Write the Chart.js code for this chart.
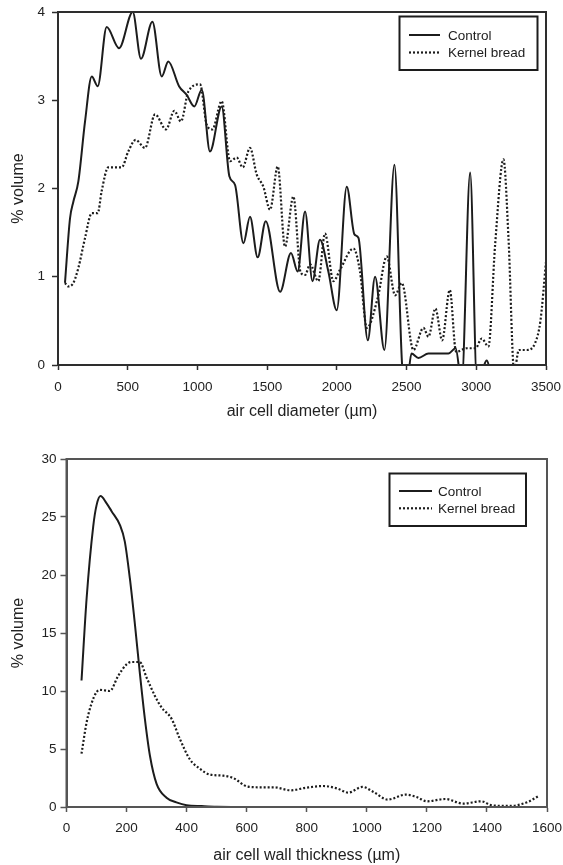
<!DOCTYPE html>
<html>
<head>
<meta charset="utf-8">
<script src="https://cdn.jsdelivr.net/npm/chart.js@4/dist/chart.umd.min.js"></script>
<style>
  body { margin: 0; background: #fff; }
  #wrap { position: relative; width: 563px; height: 865px; }
  canvas { position: absolute; left: 0; }
</style>
</head>
<body>
<div id="wrap">
  <canvas id="diameterChart" width="563" height="430" style="top:0"></canvas>
  <canvas id="thicknessChart" width="563" height="435" style="top:430px"></canvas>
</div>
<script>
// --- top panel: air cell diameter (µm) vs % volume
const diamControlX = [50, 86, 110, 146, 194, 242, 285, 349, 438, 536, 595, 677, 744, 791, 868, 923, 978, 1031, 1090, 1174, 1229, 1270, 1330, 1377, 1432, 1490, 1593, 1671, 1719, 1772, 1825, 1879, 1939, 1999, 2071, 2126, 2155, 2222, 2274, 2341, 2413, 2468, 2500, 2535, 2585, 2657, 2800, 2852, 2895, 2956, 3005, 3045, 3075, 3105, 3200, 3500];
const diamControlY = [0.93, 1.66, 1.85, 2.08, 2.76, 3.27, 3.16, 3.83, 3.59, 4.0, 3.47, 3.89, 3.27, 3.44, 3.16, 3.06, 2.93, 3.12, 2.42, 2.93, 2.14, 2.04, 1.38, 1.68, 1.22, 1.63, 0.83, 1.27, 1.06, 1.74, 0.95, 1.42, 1.06, 0.62, 2.02, 1.48, 1.44, 0.28, 1.0, 0.17, 2.27, 0.0, -0.25, 0.13, 0.08, 0.13, 0.13, 0.19, -0.2, 2.18, -0.2, -0.05, 0.05, -0.1, -0.5, -0.5];

const diamKernelX = [50, 74, 110, 146, 194, 242, 285, 313, 361, 457, 504, 557, 624, 696, 775, 834, 882, 935, 1019, 1067, 1107, 1174, 1234, 1282, 1325, 1377, 1425, 1473, 1521, 1576, 1628, 1688, 1740, 1772, 1808, 1867, 1915, 1975, 2023, 2119, 2166, 2215, 2293, 2358, 2418, 2466, 2549, 2621, 2657, 2707, 2755, 2810, 2855, 2932, 2995, 3039, 3087, 3135, 3195, 3231, 3272, 3305, 3362, 3422, 3460, 3500];
const diamKernelY = [0.93, 0.89, 0.93, 1.10, 1.44, 1.72, 1.72, 1.97, 2.24, 2.24, 2.42, 2.55, 2.46, 2.84, 2.67, 2.88, 2.76, 3.10, 3.18, 2.72, 2.67, 2.99, 2.31, 2.35, 2.24, 2.46, 2.16, 2.02, 1.76, 2.25, 1.34, 1.91, 1.05, 1.02, 1.14, 0.95, 1.49, 0.95, 1.08, 1.32, 1.06, 0.42, 0.76, 1.23, 0.79, 0.93, 0.17, 0.42, 0.32, 0.64, 0.28, 0.85, 0.15, 0.19, 0.19, 0.30, 0.21, 1.36, 2.33, 1.44, -0.08, 0.17, 0.17, 0.25, 0.5, 1.17];

const diamTicks = [0, 500, 1000, 1500, 2000, 2500, 3000, 3500];

// --- bottom panel: air cell wall thickness (µm) vs % volume
const wallControlX = [50, 67, 89, 100, 113, 133, 150, 178, 194, 211, 228, 244, 261, 278, 300, 333, 366, 400, 450, 500, 600, 800];
const wallControlY = [10.9, 18.0, 24.2, 26.0, 26.8, 26.2, 25.5, 24.3, 22.9, 19.7, 15.7, 11.6, 7.6, 4.4, 2.0, 0.8, 0.4, 0.15, 0.08, 0.03, 0.0, 0.0];

const wallKernelX = [50, 67, 83, 100, 111, 144, 172, 200, 216, 244, 266, 294, 316, 350, 377, 411, 444, 477, 522, 555, 604, 640, 690, 747, 795, 855, 902, 938, 986, 1022, 1070, 1130, 1165, 1201, 1261, 1321, 1381, 1417, 1476, 1536, 1570];
const wallKernelY = [4.6, 7.3, 8.9, 9.9, 10.1, 10.0, 11.3, 12.3, 12.5, 12.5, 11.2, 9.6, 8.6, 7.6, 5.9, 4.1, 3.3, 2.8, 2.7, 2.5, 1.75, 1.7, 1.7, 1.44, 1.65, 1.81, 1.59, 1.24, 1.73, 1.30, 0.64, 1.07, 0.87, 0.49, 0.69, 0.29, 0.49, 0.14, 0.09, 0.43, 0.92];

const wallTicks = [0, 200, 400, 600, 800, 1000, 1200, 1400, 1600];

const seriesNames = ['Control', 'Kernel bread'];

const FONT = "'Liberation Sans', Arial, sans-serif";
Chart.defaults.font.family = FONT;
Chart.defaults.color = '#222';

function toPoints(xs, ys) {
    return xs.map((x, i) => ({ x: x, y: ys[i] }));
}

function lineSet(label, xs, ys, dotted) {
    return {
        label: label,
        data: toPoints(xs, ys),
        borderColor: '#1c1c1c',
        borderWidth: dotted ? 2.2 : 2,
        borderDash: dotted ? [2, 2] : [],
        pointRadius: 0,
        fill: false,
        cubicInterpolationMode: 'monotone'
    };
}

// frame round the plot + boxed legend in the upper right
const framePlugin = {
    id: 'frame',
    afterDraw(chart, args, opts) {
        const { ctx, chartArea: a } = chart;
        ctx.save();
        ctx.strokeStyle = opts.color;
        ctx.lineWidth = 2;
        ctx.strokeRect(a.left, a.top, a.right - a.left, a.bottom - a.top);

        const b = opts.legend;
        ctx.strokeStyle = '#1c1c1c';
        ctx.strokeRect(b.x, b.y, b.w, b.h);
        chart.data.datasets.forEach((ds, i) => {
            const y = b.rowY[i];
            ctx.beginPath();
            ctx.lineWidth = ds.borderWidth;
            ctx.setLineDash(ds.borderDash);
            ctx.moveTo(b.lineX0, y);
            ctx.lineTo(b.lineX1, y);
            ctx.stroke();
            ctx.setLineDash([]);
            ctx.fillStyle = '#1c1c1c';
            ctx.font = '13.5px ' + FONT;
            ctx.textBaseline = 'middle';
            ctx.fillText(ds.label, b.textX, y + 1);
        });
        ctx.restore();
    }
};

function makeChart(id, cfg) {
    return new Chart(document.getElementById(id), {
        type: 'line',
        data: { datasets: cfg.datasets },
        options: {
            responsive: false,
            animation: false,
            layout: { padding: cfg.padding },
            plugins: {
                legend: { display: false },
                tooltip: { enabled: false },
                frame: { color: cfg.frameColor, legend: cfg.legendBox }
            },
            scales: {
                x: {
                    type: 'linear',
                    min: cfg.xMin, max: cfg.xMax,
                    afterFit: s => { s.height = cfg.xHeight; s.paddingLeft = 0; s.paddingRight = 0; },
                    afterBuildTicks: s => { s.ticks = cfg.xTicks.map(v => ({ value: v })); },
                    grid: { drawOnChartArea: false, tickLength: 5, tickWidth: 1.5, tickColor: cfg.frameColor },
                    border: { color: cfg.frameColor, width: 2 },
                    ticks: { font: { size: 13.5 }, padding: cfg.xTickPad, maxRotation: 0, callback: v => String(v) },
                    title: { display: true, text: cfg.xTitle, font: { size: 16 }, padding: { top: 0, bottom: cfg.xTitlePad } }
                },
                y: {
                    min: cfg.yMin, max: cfg.yMax,
                    afterFit: s => { s.width = cfg.yWidth; s.paddingTop = 0; s.paddingBottom = 0; },
                    ticks: { stepSize: cfg.yStep, font: { size: 13.5 }, padding: cfg.yTickPad },
                    grid: { drawOnChartArea: false, tickLength: 6, tickWidth: 1.5, tickColor: cfg.frameColor },
                    border: { color: cfg.frameColor, width: 2 },
                    title: { display: true, text: '% volume', font: { size: 16 }, padding: { top: 9, bottom: 0 } }
                }
            }
        },
        plugins: [framePlugin]
    });
}

makeChart('diameterChart', {
    datasets: [
        lineSet(seriesNames[0], diamControlX, diamControlY, false),
        lineSet(seriesNames[1], diamKernelX, diamKernelY, true)
    ],
    padding: { top: 12, right: 17, left: 0, bottom: 0 },
    xMin: 0, xMax: 3500, xTicks: diamTicks, xHeight: 65, xTickPad: 9, xTitlePad: 9,
    xTitle: 'air cell diameter (µm)',
    yMin: 0, yMax: 4, yStep: 1, yWidth: 58, yTickPad: 7,
    frameColor: '#2e2e2e',
    legendBox: { x: 399.5, y: 16.5, w: 138, h: 53.5, lineX0: 409, lineX1: 440, textX: 448, rowY: [35, 52.5] }
});

makeChart('thicknessChart', {
    datasets: [
        lineSet(seriesNames[0], wallControlX, wallControlY, false),
        lineSet(seriesNames[1], wallKernelX, wallKernelY, true)
    ],
    padding: { top: 29, right: 16, left: 0, bottom: 0 },
    xMin: 0, xMax: 1600, xTicks: wallTicks, xHeight: 58, xTickPad: 8, xTitlePad: 0,
    xTitle: 'air cell wall thickness (µm)',
    yMin: 0, yMax: 30, yStep: 5, yWidth: 66.5, yTickPad: 4,
    frameColor: '#555',
    legendBox: { x: 389.5, y: 43.5, w: 136.5, h: 52.5, lineX0: 399, lineX1: 432, textX: 438, rowY: [61, 78.3] }
});
</script>
</body>
</html>
